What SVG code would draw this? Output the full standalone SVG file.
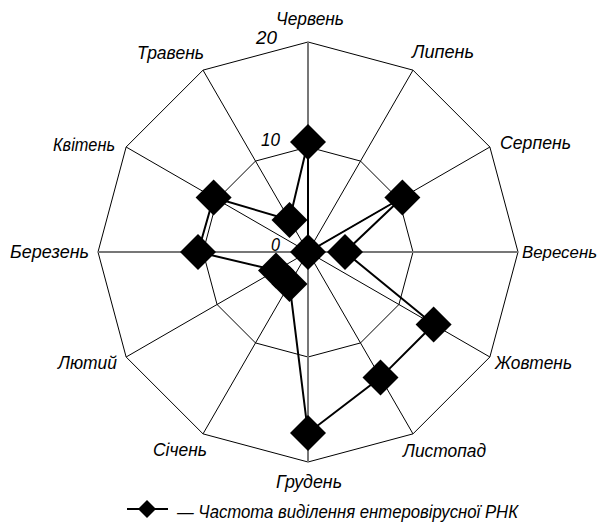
<svg xmlns="http://www.w3.org/2000/svg" xmlns:xlink="http://www.w3.org/1999/xlink" width="604" height="531" viewBox="0 0 604 531">
<style>
.grid{fill:none;stroke:#000;stroke-width:1}
.axis{stroke:#000;stroke-width:1}
.axisg{stroke:#777;stroke-width:2}
.series{fill:none;stroke:#000;stroke-width:2;stroke-linejoin:miter}
.lbl{font-family:"Liberation Sans",Arial,sans-serif;font-style:italic;font-size:19px;fill:#000}
.leg{font-family:"Liberation Sans",Arial,sans-serif;font-style:italic;font-size:18px;fill:#000}
</style>
<defs>
<path id="dm" d="M0,-18 L18,0 L0,18 L-18,0 Z" fill="#000"/>
<path id="dms" d="M0,-9 L9,0 L0,9 L-9,0 Z" fill="#000"/>
</defs>
<rect width="604" height="531" fill="#fff"/>
<g id="grid">
<polygon class="grid" points="308,42 413,70.13 489.87,147 518,252 489.87,357 413,433.87 308,462 203,433.87 126.13,357 98,252 126.13,147 203,70.13"/>
<polygon class="grid" points="308,147 360.5,161.07 398.93,199.5 413,252 398.93,304.5 360.5,342.93 308,357 255.5,342.93 217.07,304.5 203,252 217.07,199.5 255.5,161.07"/>
<line class="axis" x1="308" y1="252" x2="413" y2="70.13"/>
<line class="axis" x1="308" y1="252" x2="489.87" y2="147"/>
<line class="axis" x1="308" y1="252" x2="489.87" y2="357"/>
<line class="axis" x1="308" y1="252" x2="413" y2="433.87"/>
<line class="axis" x1="308" y1="252" x2="203" y2="433.87"/>
<line class="axis" x1="308" y1="252" x2="126.13" y2="357"/>
<line class="axis" x1="308" y1="252" x2="126.13" y2="147"/>
<line class="axis" x1="308" y1="252" x2="203" y2="70.13"/>
<line class="axisg" x1="308" y1="42" x2="308" y2="462"/>
<line class="axisg" x1="98" y1="252" x2="518" y2="252"/>
</g>
<g id="scale">
<text class="lbl" x="256" y="44" textLength="21" lengthAdjust="spacingAndGlyphs">20</text>
<text class="lbl" x="261" y="146" textLength="19" lengthAdjust="spacingAndGlyphs">10</text>
<text class="lbl" x="271" y="251" textLength="9" lengthAdjust="spacingAndGlyphs">0</text>
</g>
<g id="labels">
<text id="l-jun" class="lbl" x="276" y="25" textLength="68" lengthAdjust="spacingAndGlyphs">Червень</text>
<text id="l-jul" class="lbl" x="412" y="58" textLength="62" lengthAdjust="spacingAndGlyphs">Липень</text>
<text id="l-aug" class="lbl" x="500" y="149" textLength="71" lengthAdjust="spacingAndGlyphs">Серпень</text>
<text id="l-sep" class="lbl" x="522" y="258" style="font-size:17px" textLength="75" lengthAdjust="spacingAndGlyphs">Вересень</text>
<text id="l-oct" class="lbl" x="495" y="369" textLength="77" lengthAdjust="spacingAndGlyphs">Жовтень</text>
<text id="l-nov" class="lbl" x="403" y="457" textLength="83" lengthAdjust="spacingAndGlyphs">Листопад</text>
<text id="l-dec" class="lbl" x="276" y="488" textLength="66" lengthAdjust="spacingAndGlyphs">Грудень</text>
<text id="l-jan" class="lbl" x="153" y="456" textLength="54" lengthAdjust="spacingAndGlyphs">Січень</text>
<text id="l-feb" class="lbl" x="58" y="369" textLength="59" lengthAdjust="spacingAndGlyphs">Лютий</text>
<text id="l-mar" class="lbl" x="10" y="258" textLength="79" lengthAdjust="spacingAndGlyphs">Березень</text>
<text id="l-apr" class="lbl" x="53" y="151" textLength="62" lengthAdjust="spacingAndGlyphs">Квітень</text>
<text id="l-may" class="lbl" x="137" y="59" textLength="67" lengthAdjust="spacingAndGlyphs">Травень</text>
</g>
<g id="connectors">
<polygon class="series" points="308,142 308,252 402.4,197.5 345,252 433.6,324.5 380.5,377.6 308,433 289.5,284 276,270.5 198,252 213.6,197.5 289.5,220"/>
</g>
<g id="points">
<use id="p-jun" xlink:href="#dm" x="308" y="142"/>
<use id="p-jul" xlink:href="#dm" x="308" y="252"/>
<use id="p-aug" xlink:href="#dm" x="402.4" y="197.5"/>
<use id="p-sep" xlink:href="#dm" x="345" y="252"/>
<use id="p-oct" xlink:href="#dm" x="433.6" y="324.5"/>
<use id="p-nov" xlink:href="#dm" x="380.5" y="377.6"/>
<use id="p-dec" xlink:href="#dm" x="308" y="433"/>
<use id="p-jan" xlink:href="#dm" x="289.5" y="284"/>
<use id="p-feb" xlink:href="#dm" x="276" y="270.5"/>
<use id="p-mar" xlink:href="#dm" x="198" y="252"/>
<use id="p-apr" xlink:href="#dm" x="213.6" y="197.5"/>
<use id="p-may" xlink:href="#dm" x="289.5" y="220"/>
</g>
<g id="legend">
<line x1="127" y1="509" x2="168" y2="509" stroke="#000" stroke-width="2"/>
<use xlink:href="#dms" x="147" y="509"/>
<text class="leg" x="177" y="518" textLength="341" lengthAdjust="spacingAndGlyphs">— Частота виділення ентеровірусної РНК</text>
</g>
</svg>
